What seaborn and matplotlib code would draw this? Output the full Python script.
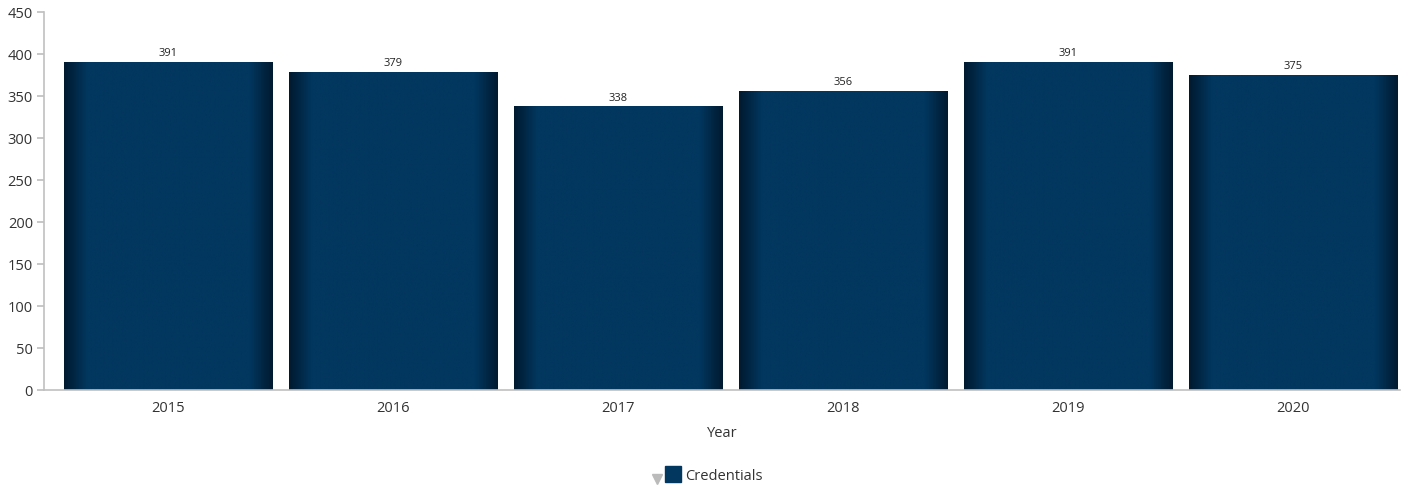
import numpy as np
import pandas as pd
import matplotlib
matplotlib.use("Agg")
import matplotlib.pyplot as plt
from matplotlib.lines import Line2D
from matplotlib.colors import LinearSegmentedColormap
import seaborn as sns

years = ["2015", "2016", "2017", "2018", "2019", "2020"]
credentials = [391, 379, 338, 356, 391, 375]
y_ticks = [0, 50, 100, 150, 200, 250, 300, 350, 400, 450]

sns.set_theme(style="white")
plt.rcParams["font.family"] = ["Open Sans", "DejaVu Sans"]

df = pd.DataFrame({"Year": years, "Credentials": credentials})

fig = plt.figure(figsize=(14.24, 4.88), dpi=100)
ax = fig.add_axes([44 / 1424, 1 - 390 / 488, (1400 - 44) / 1424, (390 - 12) / 488])

navy = "#02375f"
sns.barplot(data=df, x="Year", y="Credentials", color=navy, width=0.925,
            edgecolor="#c8ccd2", linewidth=0.6, saturation=1, ax=ax)

# horizontal shading across each bar: darker towards both edges
shade = LinearSegmentedColormap.from_list(
    "bar_shade",
    [(0.0, "#001a30"), (0.11, "#02375f"), (0.89, "#02375f"), (1.0, "#001a30")])
grad = np.linspace(0, 1, 256).reshape(1, -1)
for patch in ax.patches:
    x0, y0 = patch.get_x(), patch.get_y()
    w, h = patch.get_width(), patch.get_height()
    im = ax.imshow(grad, cmap=shade, aspect="auto", extent=[x0, x0 + w, y0, y0 + h],
                   interpolation="bilinear", zorder=patch.get_zorder() + 0.1)
    im.set_clip_path(patch)

for i, v in enumerate(credentials):
    ax.text(i, v + 3, str(v), ha="center", va="bottom", fontsize=8, color="#222222")

ax.set_xlim(-0.551, 5.476)
ax.set_ylim(0, 450)
ax.set_yticks(y_ticks)
ax.set_yticklabels([str(t) for t in y_ticks])
ax.set_xlabel("Year", fontsize=10.5, color="#333333", labelpad=7)
ax.set_ylabel("")

for s in ["top", "right"]:
    ax.spines[s].set_visible(False)
for s in ["left", "bottom"]:
    ax.spines[s].set_color("#c0c0c0")
    ax.spines[s].set_linewidth(1.2)
ax.tick_params(axis="y", left=True, length=5, color="#c0c0c0", labelsize=10.5,
               labelcolor="#333333", pad=3)
ax.tick_params(axis="x", bottom=False, labelsize=10.5, labelcolor="#333333", pad=2)

# legend: series swatch plus the small collapse arrow beside it
handles = [Line2D([], [], marker="s", linestyle="none", color=navy, markersize=11)]
fig.legend(handles=handles, labels=["Credentials"], loc="center",
           bbox_to_anchor=(714 / 1424, 1 - 476 / 488), frameon=False,
           fontsize=10.5, handletextpad=0.3, handlelength=1.0,
           labelcolor="#333333")
fig.add_artist(Line2D([657 / 1424], [1 - 479 / 488], marker="v", linestyle="none",
                      color="#bbbbbb", markersize=7, transform=fig.transFigure))

fig.savefig("out.png", dpi=100)
